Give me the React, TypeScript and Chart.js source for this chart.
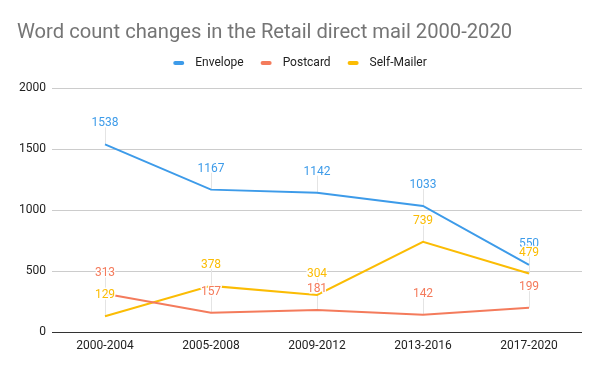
import React, { useEffect, useRef } from "react";
import { Chart, registerables } from "chart.js";

Chart.register(...registerables);

const titleText = "Word count changes in the Retail direct mail 2000-2020";
const categories = ["2000-2004", "2005-2008", "2009-2012", "2013-2016", "2017-2020"];
const seriesNames = ["Envelope", "Postcard", "Self-Mailer"];
const envelope = [1538, 1167, 1142, 1033, 550];
const postcard = [313, 157, 181, 142, 199];
const selfMailer = [129, 378, 304, 739, 479];
const seriesColors = ["#3d9be9", "#f47b5c", "#fbbc04"];
const yMin = 0;
const yMax = 2000;
const yStep = 500;

const FONT = "Roboto, 'Noto Sans', Arial, sans-serif";

const headerPlugin = {
  id: "header",
  afterDraw(chart: any) {
    const ctx = chart.ctx;
    ctx.save();
    ctx.font = `20.2px ${FONT}`;
    ctx.fillStyle = "#757575";
    ctx.textAlign = "left";
    ctx.textBaseline = "alphabetic";
    ctx.fillText(titleText, 17, 38);

    ctx.font = `12px ${FONT}`;
    const markerW = 11;
    const gap = 11;
    const spacing = 17;
    const items = chart.data.datasets.map((ds: any) => ({
      label: ds.label,
      color: ds.borderColor,
      w: markerW + gap + ctx.measureText(ds.label).width,
    }));
    const total = items.reduce((s: number, it: any) => s + it.w, 0) + spacing * (items.length - 1);
    let x = 300 - total / 2;
    const y = 63;
    ctx.textBaseline = "middle";
    for (const it of items) {
      ctx.fillStyle = it.color;
      ctx.beginPath();
      if (ctx.roundRect) ctx.roundRect(x, y - 2, markerW, 4, 2);
      else ctx.rect(x, y - 2, markerW, 4);
      ctx.fill();
      ctx.fillStyle = "#222222";
      ctx.fillText(it.label, x + markerW + gap, y);
      x += it.w + spacing;
    }
    ctx.restore();
  },
};

const labelPlugin = {
  id: "pointLabels",
  beforeDatasetsDraw(chart: any) {
    const ctx = chart.ctx;
    ctx.save();
    ctx.strokeStyle = "#e4e4e4";
    ctx.lineWidth = 1;
    chart.data.datasets.forEach((_ds: any, i: number) => {
      const meta = chart.getDatasetMeta(i);
      meta.data.forEach((pt: any) => {
        const x = Math.round(pt.x) + 0.5;
        ctx.beginPath();
        ctx.moveTo(x, pt.y - 17);
        ctx.lineTo(x, pt.y);
        ctx.stroke();
      });
    });
    ctx.restore();
  },
  afterDatasetsDraw(chart: any) {
    const ctx = chart.ctx;
    ctx.save();
    ctx.font = `12px ${FONT}`;
    ctx.textAlign = "center";
    ctx.textBaseline = "alphabetic";
    ctx.lineJoin = "round";
    chart.data.datasets.forEach((ds: any, i: number) => {
      const meta = chart.getDatasetMeta(i);
      meta.data.forEach((pt: any, j: number) => {
        const txt = String(ds.data[j]);
        const y = pt.y - 18;
        ctx.strokeStyle = "rgba(255,255,255,0.95)";
        ctx.lineWidth = 3;
        ctx.strokeText(txt, pt.x, y);
        ctx.fillStyle = ds.borderColor;
        ctx.fillText(txt, pt.x, y);
      });
    });
    ctx.restore();
  },
};

export default function App() {
  const canvasRef = useRef<HTMLCanvasElement | null>(null);

  useEffect(() => {
    if (!canvasRef.current) return;
    Chart.defaults.font.family = FONT;
    const seriesData = [envelope, postcard, selfMailer];
    const chart = new Chart(canvasRef.current, {
      type: "line",
      data: {
        labels: categories,
        datasets: seriesNames.map((name, i) => ({
          label: name,
          data: seriesData[i],
          borderColor: seriesColors[i],
          backgroundColor: seriesColors[i],
          borderWidth: 2,
          pointRadius: 0,
          pointHoverRadius: 0,
          tension: 0,
          fill: false,
        })),
      },
      options: {
        animation: false,
        responsive: false,
        maintainAspectRatio: false,
        layout: { padding: { top: 88, left: 17, right: 18, bottom: 0 } },
        plugins: {
          legend: { display: false },
          title: { display: false },
          tooltip: { enabled: false },
        },
        scales: {
          x: {
            offset: true,
            grid: { display: false, drawTicks: false },
            border: { display: false },
            ticks: {
              color: "#222222",
              font: { size: 12, family: FONT },
              padding: 7,
              maxRotation: 0,
              autoSkip: false,
            },
            afterFit: (scale: any) => {
              scale.height = 39;
            },
          },
          y: {
            min: yMin,
            max: yMax,
            grid: {
              drawTicks: false,
              color: (c: any) => (c.tick && c.tick.value === 0 ? "#333333" : "#cccccc"),
              lineWidth: 1,
            },
            border: { display: false },
            ticks: {
              stepSize: yStep,
              color: "#222222",
              font: { size: 12, family: FONT },
              padding: 6,
              callback: (v: any) => String(v),
            },
            afterFit: (scale: any) => {
              scale.width = 35;
            },
          },
        },
      },
      plugins: [labelPlugin, headerPlugin],
    });
    return () => chart.destroy();
  }, []);

  return (
    <div style={{ position: "fixed", left: 0, top: 0, width: 600, height: 371, background: "#ffffff" }}>
      <canvas ref={canvasRef} width={600} height={371} style={{ width: 600, height: 371 }} />
    </div>
  );
}
